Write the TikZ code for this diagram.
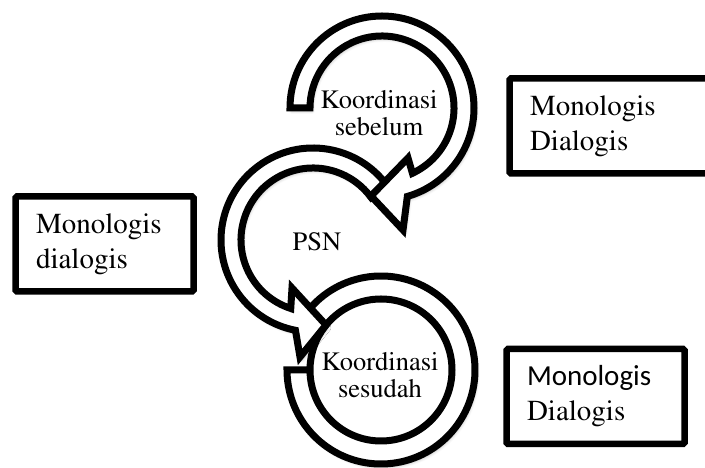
\documentclass[tikz,border=0pt]{standalone}
\usepackage{fontspec}
\newfontfamily\calibrifont{Carlito}
\usepackage[T1]{fontenc}
\renewcommand\rmdefault{ptm}
\usetikzlibrary{positioning}
\usetikzlibrary{shadows.blur}

\begin{document}
\begin{tikzpicture}[x=1pt,y=1pt,
  ring/.style={draw=black,fill=white,line width=7pt,
    blur shadow={shadow xshift=2pt,shadow yshift=-3pt,shadow opacity=30,shadow blur radius=3pt}},
  mbox/.style={draw=black,line width=6.5pt,rounded corners=1.5pt,fill=white,align=left,
    text width=137pt,inner xsep=20.5pt,minimum height=95pt,font=\fontsize{29}{35}\selectfont},
  lbl/.style={align=center,font=\fontsize{26.5}{27}\selectfont}]
 \useasboundingbox (0,0) rectangle (705,468);
 \clip (0,0) rectangle (705,468);
 % koordinasi sesudah
 \draw[ring] ([shift={(381,98)}]142:94) arc[start angle=142,end angle=-180,radius=94]
   -- ([shift={(381,98)}]180:71) arc[start angle=180,end angle=-218,radius=71] -- cycle;
 % PSN
 \draw[ring] ([shift={(313,228)}]36:92) arc[start angle=36,end angle=259,radius=92]
   -- (300,111) -- (326,143) -- (292,180)
   -- ([shift={(313,228)}]252:72) arc[start angle=252,end angle=36,radius=72] -- cycle;
 % koordinasi sebelum
 \draw[ring] ([shift={(382,360)}]180:92) arc[start angle=180,end angle=-74,radius=92]
   -- (403,238) -- (371,272) -- (408,310)
   -- ([shift={(382,360)}]-65:72) arc[start angle=-65,end angle=180,radius=72] -- cycle;
 \node[lbl] (sebelum) at (379,355) {Koordinasi\\sebelum};
 \node[lbl] (psn) at (317,226) {PSN};
 \node[lbl] (sesudah) at (380,93) {Koordinasi\\sesudah};
 % boxes
 \node[mbox] (kiri) at (104.5,224) {Monologis\\dialogis};
 \node[mbox,text width=169.5pt] (atas) at (614.75,342) {Monologis\\Dialogis};
 \node[mbox] (bawah) at (595.5,71.5) {{\calibrifont Monologis}\\Dialogis};
\end{tikzpicture}
\end{document}
